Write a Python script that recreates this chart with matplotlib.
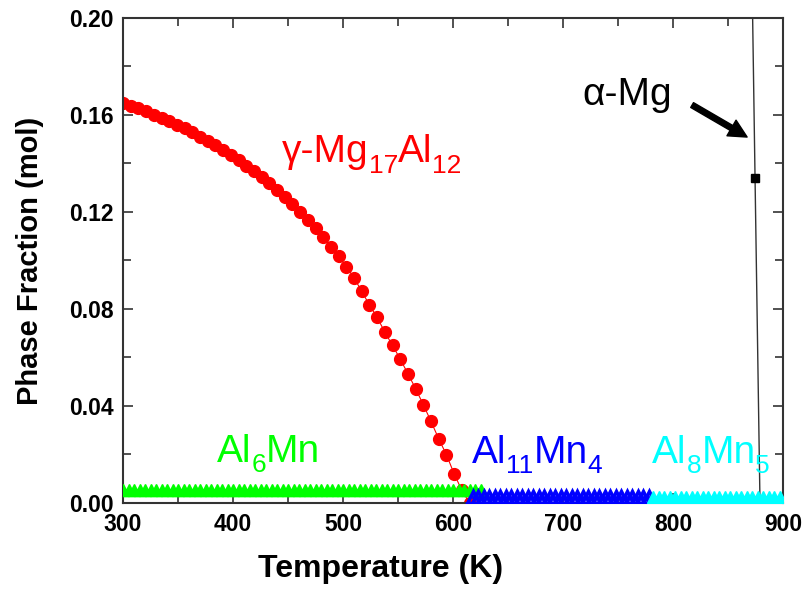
import numpy as np
import matplotlib
matplotlib.use("Agg")
import matplotlib.pyplot as plt
from matplotlib.ticker import MultipleLocator

plt.rcParams['font.family'] = ['Liberation Sans', 'DejaVu Sans']

# gamma-Mg17Al12 (red circles)
gamma_T = [300, 307, 314, 321, 328, 335, 342, 349, 356, 363,
           370, 377, 384, 391, 398, 405, 412, 419, 426, 433,
           440, 447, 454, 461, 468, 475, 482, 489, 496, 503,
           510, 517, 524, 531, 538, 545, 552, 559, 566, 573,
           580, 587, 594, 601, 608, 615]
gamma_frac = [0.1650, 0.1639, 0.1627, 0.1615, 0.1602, 0.1589, 0.1575, 0.1560, 0.1545, 0.1528,
              0.1511, 0.1494, 0.1475, 0.1456, 0.1435, 0.1414, 0.1391, 0.1368, 0.1343, 0.1318,
              0.1290, 0.1262, 0.1233, 0.1201, 0.1169, 0.1133, 0.1096, 0.1057, 0.1017, 0.0975,
              0.0928, 0.0873, 0.0816, 0.0766, 0.0704, 0.0650, 0.0593, 0.0533, 0.0471, 0.0405,
              0.0336, 0.0264, 0.0199, 0.0120, 0.0052, 0.0000]

# Al6Mn (green), Al11Mn4 (blue), Al8Mn5 (cyan) - flat bands near zero
al6mn_T = np.arange(300, 626, 5)
al6mn_frac = np.full(len(al6mn_T), 0.0052)
al11mn4_T = np.arange(618, 781, 5)
al11mn4_frac = np.full(len(al11mn4_T), 0.0026)
al8mn5_T = np.arange(782, 901, 5)
al8mn5_frac = np.full(len(al8mn5_T), 0.0026)

# alpha-Mg (black squares, almost vertical)
amg_T = [879.0, 874.5, 869.0]
amg_frac = [0.0, 0.134, 0.30]

fig = plt.figure(figsize=(8.04, 5.90), dpi=100)
ax = fig.add_axes([0.153, 0.1475, 0.821, 0.822])
renderer = fig.canvas.get_renderer()


def chem_label(x, y, parts, color, size=28):
    # draw text chunk by chunk, subscripts smaller and lowered
    off = 0.0
    for s, sub in parts:
        fs = size * 0.68 if sub else size
        dy = -size * 0.27 if sub else 0
        t = ax.annotate(s, (x, y), xytext=(off, dy), textcoords='offset points',
                        fontsize=fs, color=color, ha='left', va='baseline')
        bb = t.get_window_extent(renderer)
        off += bb.width * 72.0 / fig.dpi


ax.plot(gamma_T, gamma_frac, '-o', color='#ff0000', lw=0.8, ms=8.5, zorder=2)
ax.plot(amg_T, amg_frac, '-s', color='#333333', lw=1.0, ms=6,
        mfc='black', mec='black', zorder=2)
ax.plot(al6mn_T, al6mn_frac, '-^', color='#00ff00', lw=2, ms=8, zorder=3)
ax.plot(al11mn4_T, al11mn4_frac, '-^', color='#0000ff', lw=2, ms=8,
        mfc='none', mew=2.5, zorder=4)
ax.plot(al8mn5_T, al8mn5_frac, '-^', color='#00ffff', lw=2, ms=8, zorder=5)

ax.set_xlim(300, 900)
ax.set_ylim(0, 0.20)
ax.xaxis.set_major_locator(MultipleLocator(100))
ax.xaxis.set_minor_locator(MultipleLocator(50))
ax.yaxis.set_major_locator(MultipleLocator(0.04))
ax.yaxis.set_minor_locator(MultipleLocator(0.02))
ax.yaxis.set_major_formatter(plt.FormatStrFormatter('%.2f'))
ax.tick_params(which='both', direction='in', top=True, right=True,
               color='#333333', width=1.2)
ax.tick_params(which='major', length=7, labelsize=16.5, pad=7)
ax.tick_params(which='minor', length=6)
for lab in ax.get_xticklabels() + ax.get_yticklabels():
    lab.set_fontweight('bold')
for sp in ax.spines.values():
    sp.set_linewidth(1.5)
    sp.set_color('#333333')

ax.set_xlabel('Temperature (K)', fontsize=23, fontweight='bold')
ax.xaxis.set_label_coords(0.39, -0.105)
ax.set_ylabel('Phase Fraction (mol)', fontsize=21, fontweight='bold', labelpad=18)

chem_label(444.5, 0.1406, [('γ-Mg', False), ('17', True), ('Al', False), ('12', True)], '#ff0000')
chem_label(385.5, 0.0169, [('Al', False), ('6', True), ('Mn', False)], '#00ff00')
chem_label(617, 0.0165, [('Al', False), ('11', True), ('Mn', False), ('4', True)], '#0000ff')
chem_label(781, 0.0165, [('Al', False), ('8', True), ('Mn', False), ('5', True)], '#00ffff')
ax.text(718, 0.164, 'α-Mg', color='black', fontsize=28, ha='left', va='baseline')
ax.annotate('', xy=(867.3, 0.1509), xytext=(817.3, 0.1641),
            arrowprops=dict(facecolor='black', edgecolor='black',
                            width=4, headwidth=13, headlength=13, shrink=0))

fig.savefig('out.png', dpi=100)
